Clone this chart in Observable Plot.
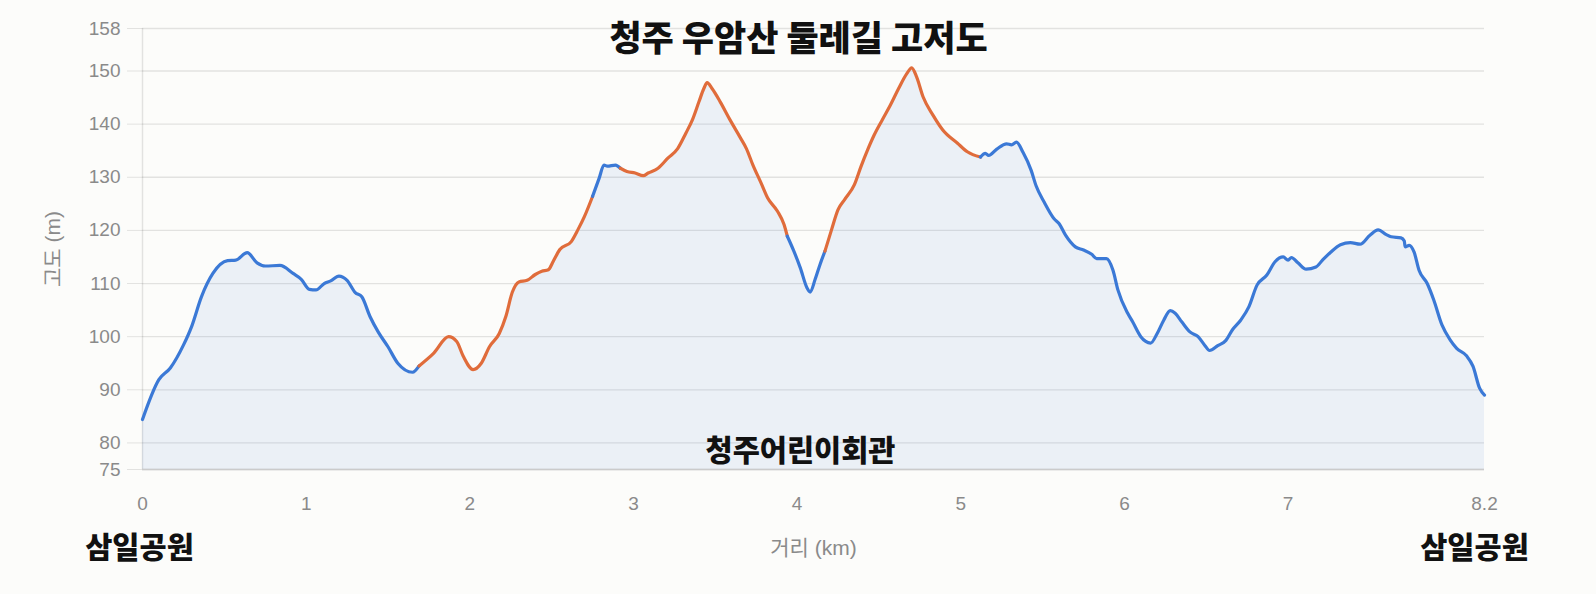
<!DOCTYPE html>
<html>
<head>
<meta charset="utf-8">
<script src="https://cdn.jsdelivr.net/npm/d3@7"></script>
<script src="https://cdn.jsdelivr.net/npm/@observablehq/plot@0.6"></script>
<style>
  html, body { margin: 0; padding: 0; background: #fcfcfa; }
  #chart svg { display: block; }
</style>
</head>
<body>
<div id="chart"></div>
<script>
const titleText = "청주 우암산 둘레길 고저도";
const midLabel = "청주어린이회관";
const startLabel = "삼일공원";
const endLabel = "삼일공원";
const xTitle = "거리 (km)";
const yTitle = "고도 (m)";

const distance = [
  0.00, 0.10, 0.17, 0.25, 0.30, 0.36, 0.43, 0.52, 0.57, 0.64,
  0.70, 0.75, 0.84, 0.92, 0.97, 1.02, 1.06, 1.11, 1.15, 1.20,
  1.25, 1.30, 1.34, 1.39, 1.44, 1.50, 1.56, 1.65, 1.69, 1.78,
  1.87, 1.92, 1.96, 2.02, 2.07, 2.12, 2.18, 2.22, 2.26, 2.30,
  2.35, 2.40, 2.44, 2.48, 2.51, 2.55, 2.62, 2.66, 2.70, 2.75,
  2.79, 2.82, 2.84, 2.89, 2.92, 2.96, 3.01, 3.06, 3.09, 3.15,
  3.21, 3.27, 3.32, 3.36, 3.40, 3.43, 3.45, 3.48, 3.53, 3.59,
  3.65, 3.69, 3.73, 3.78, 3.82, 3.88, 3.92, 3.94, 3.98, 4.02,
  4.06, 4.08, 4.11, 4.14, 4.17, 4.21, 4.25, 4.29, 4.35, 4.39,
  4.43, 4.47, 4.52, 4.57, 4.62, 4.67, 4.70, 4.73, 4.77, 4.83,
  4.89, 4.98, 5.04, 5.12, 5.15, 5.17, 5.22, 5.28, 5.31, 5.34,
  5.38, 5.43, 5.46, 5.51, 5.57, 5.60, 5.64, 5.70, 5.75, 5.80,
  5.83, 5.89, 5.93, 5.96, 6.02, 6.05, 6.10, 6.13, 6.16, 6.20,
  6.24, 6.28, 6.31, 6.35, 6.40, 6.45, 6.49, 6.52, 6.57, 6.62,
  6.66, 6.71, 6.76, 6.81, 6.87, 6.92, 6.97, 7.00, 7.02, 7.06,
  7.11, 7.17, 7.21, 7.26, 7.32, 7.38, 7.44, 7.50, 7.55, 7.60,
  7.63, 7.69, 7.71, 7.715, 7.74, 7.77, 7.80, 7.85, 7.89, 7.94,
  7.99, 8.03, 8.09, 8.13, 8.17, 8.20
];
const elevation = [
  84.4, 91.9, 94.1, 98.4, 101.9, 107.5, 111.9, 114.3, 114.4, 115.8,
  113.9, 113.3, 113.4, 111.9, 110.8, 108.9, 108.8, 110.0, 110.5, 111.4,
  110.6, 108.3, 107.5, 103.8, 100.9, 98.1, 95.0, 93.3, 94.5, 96.9,
  100.0, 99.1, 96.3, 93.8, 95.0, 98.1, 100.6, 103.8, 108.4, 110.3,
  110.6, 111.7, 112.3, 112.6, 114.2, 116.4, 117.9, 120.1, 122.6, 126.4,
  129.8, 132.3, 132.1, 132.3, 131.7, 131.1, 130.8, 130.3, 130.8, 131.7,
  133.6, 135.4, 138.3, 140.8, 144.2, 146.7, 147.8, 146.7, 144.2, 140.8,
  137.6, 135.4, 132.3, 128.9, 126.1, 123.6, 121.1, 118.9, 116.1, 112.9,
  109.2, 108.4, 110.8, 113.6, 116.1, 120.1, 123.9, 125.8, 128.6, 132.0,
  135.1, 137.9, 140.8, 143.6, 146.7, 149.5, 150.6, 148.9, 145.1, 141.7,
  138.9, 136.4, 134.8, 133.8, 134.5, 134.1, 135.3, 136.3, 136.1, 136.6,
  134.7, 131.3, 128.4, 125.3, 122.2, 121.3, 119.1, 116.9, 116.3, 115.5,
  114.7, 114.7, 112.5, 108.8, 104.4, 102.8, 100.0, 99.1, 98.8, 100.6,
  103.1, 104.9, 104.4, 102.8, 100.9, 100.0, 98.4, 97.4, 98.3, 99.3,
  101.3, 103.1, 105.6, 109.7, 111.6, 114.1, 115.0, 114.4, 114.9, 113.9,
  112.7, 113.1, 114.4, 115.9, 117.3, 117.7, 117.4, 119.1, 120.1, 119.2,
  118.8, 118.6, 118.0, 116.9, 117.2, 115.9, 112.5, 110.0, 106.9, 102.2,
  99.4, 97.8, 96.4, 94.4, 90.3, 89.0
];
// distance ranges (km) drawn in the steep colour
const steepRanges = [[1.69, 2.75], [2.92, 3.94], [4.17, 5.12]];
const yTicks = [75, 80, 90, 100, 110, 120, 130, 140, 150, 158];
const xTicks = [0, 1, 2, 3, 4, 5, 6, 7, 8.2];

const blue = "#3b79d6";
const orange = "#e06c3b";
const tickGray = "#8a8a8a";
const latin = "'Liberation Sans', Arial, Helvetica, 'Noto Sans CJK KR', sans-serif";
const korean = "'Noto Sans CJK KR', 'Noto Sans', sans-serif";

const points = distance.map((d, i) => ({km: d, elev: elevation[i]}));

// split the profile into colour runs, sharing the boundary points
const isSteep = (a, b) => {
  const m = (a + b) / 2;
  return steepRanges.some(([s, e]) => m > s && m < e);
};
const rows = [];
let seg = -1, prevKind = null;
for (let i = 0; i < points.length - 1; i++) {
  const kind = isSteep(points[i].km, points[i + 1].km) ? "steep" : "flat";
  if (kind !== prevKind) {
    seg++;
    rows.push({...points[i], seg, kind});
    prevKind = kind;
  }
  rows.push({...points[i + 1], seg, kind});
}

const xDomain = [distance[0], distance[distance.length - 1]];
const yDomain = [yTicks[0], yTicks[yTicks.length - 1]];

const chart = Plot.plot({
  width: 1596,
  height: 594,
  marginLeft: 142,
  marginRight: 112,
  marginTop: 28,
  marginBottom: 125,
  style: {background: "#fcfcfa", fontFamily: latin, overflow: "visible"},
  x: {domain: xDomain},
  y: {domain: yDomain},
  color: {domain: ["flat", "steep"], range: [blue, orange]},
  marks: [
    Plot.gridY(yTicks, {stroke: "black", strokeOpacity: 0.1, strokeWidth: 1.3}),
    Plot.ruleX([xDomain[0]], {stroke: "black", strokeOpacity: 0.1, strokeWidth: 1.5}),
    Plot.areaY(points, {x: "km", y1: yDomain[0], y2: "elev", fill: blue, fillOpacity: 0.085, curve: "monotone-x"}),
    Plot.ruleY([yDomain[0]], {stroke: "#cbcbcb", strokeWidth: 1.5}),
    Plot.line(rows, {x: "km", y: "elev", z: "seg", stroke: "kind", strokeWidth: 3.2, curve: "monotone-x", strokeLinejoin: "round", strokeLinecap: "round"}),
    Plot.axisY(yTicks, {tickSize: 15, tickPadding: 7, stroke: "black", strokeOpacity: 0.1, fill: tickGray, fontSize: 19, label: null, tickFormat: (d) => `${d}`}),
    Plot.axisX(xTicks, {tickSize: 0, tickPadding: 27, fill: tickGray, fontSize: 19, label: null, tickFormat: (d) => `${d}`}),
    Plot.text([xTitle], {frameAnchor: "bottom", dy: 79, lineAnchor: "middle", fill: tickGray, fontSize: 21, fontFamily: latin}),
    Plot.text([yTitle], {frameAnchor: "left", dx: -89, rotate: -90, textAnchor: "middle", lineAnchor: "middle", fill: tickGray, fontSize: 21, fontFamily: latin}),
    Plot.text([titleText], {frameAnchor: "top", dx: -15, dy: 11, lineAnchor: "middle", fill: "#111", fontSize: 35, fontWeight: 900, fontFamily: korean}),
    Plot.text([midLabel], {frameAnchor: "bottom", dx: -13, dy: -18, lineAnchor: "middle", fill: "#111", fontSize: 29.5, fontWeight: 900, fontFamily: korean}),
    Plot.text([startLabel], {x: [xDomain[0]], frameAnchor: "bottom", dx: -3, dy: 79, lineAnchor: "middle", fill: "#111", fontSize: 29.5, fontWeight: 900, fontFamily: korean}),
    Plot.text([endLabel], {x: [xDomain[1]], frameAnchor: "bottom", dx: -10, dy: 79, lineAnchor: "middle", fill: "#111", fontSize: 29.5, fontWeight: 900, fontFamily: korean})
  ]
});
document.getElementById("chart").appendChild(chart);
</script>
</body>
</html>
